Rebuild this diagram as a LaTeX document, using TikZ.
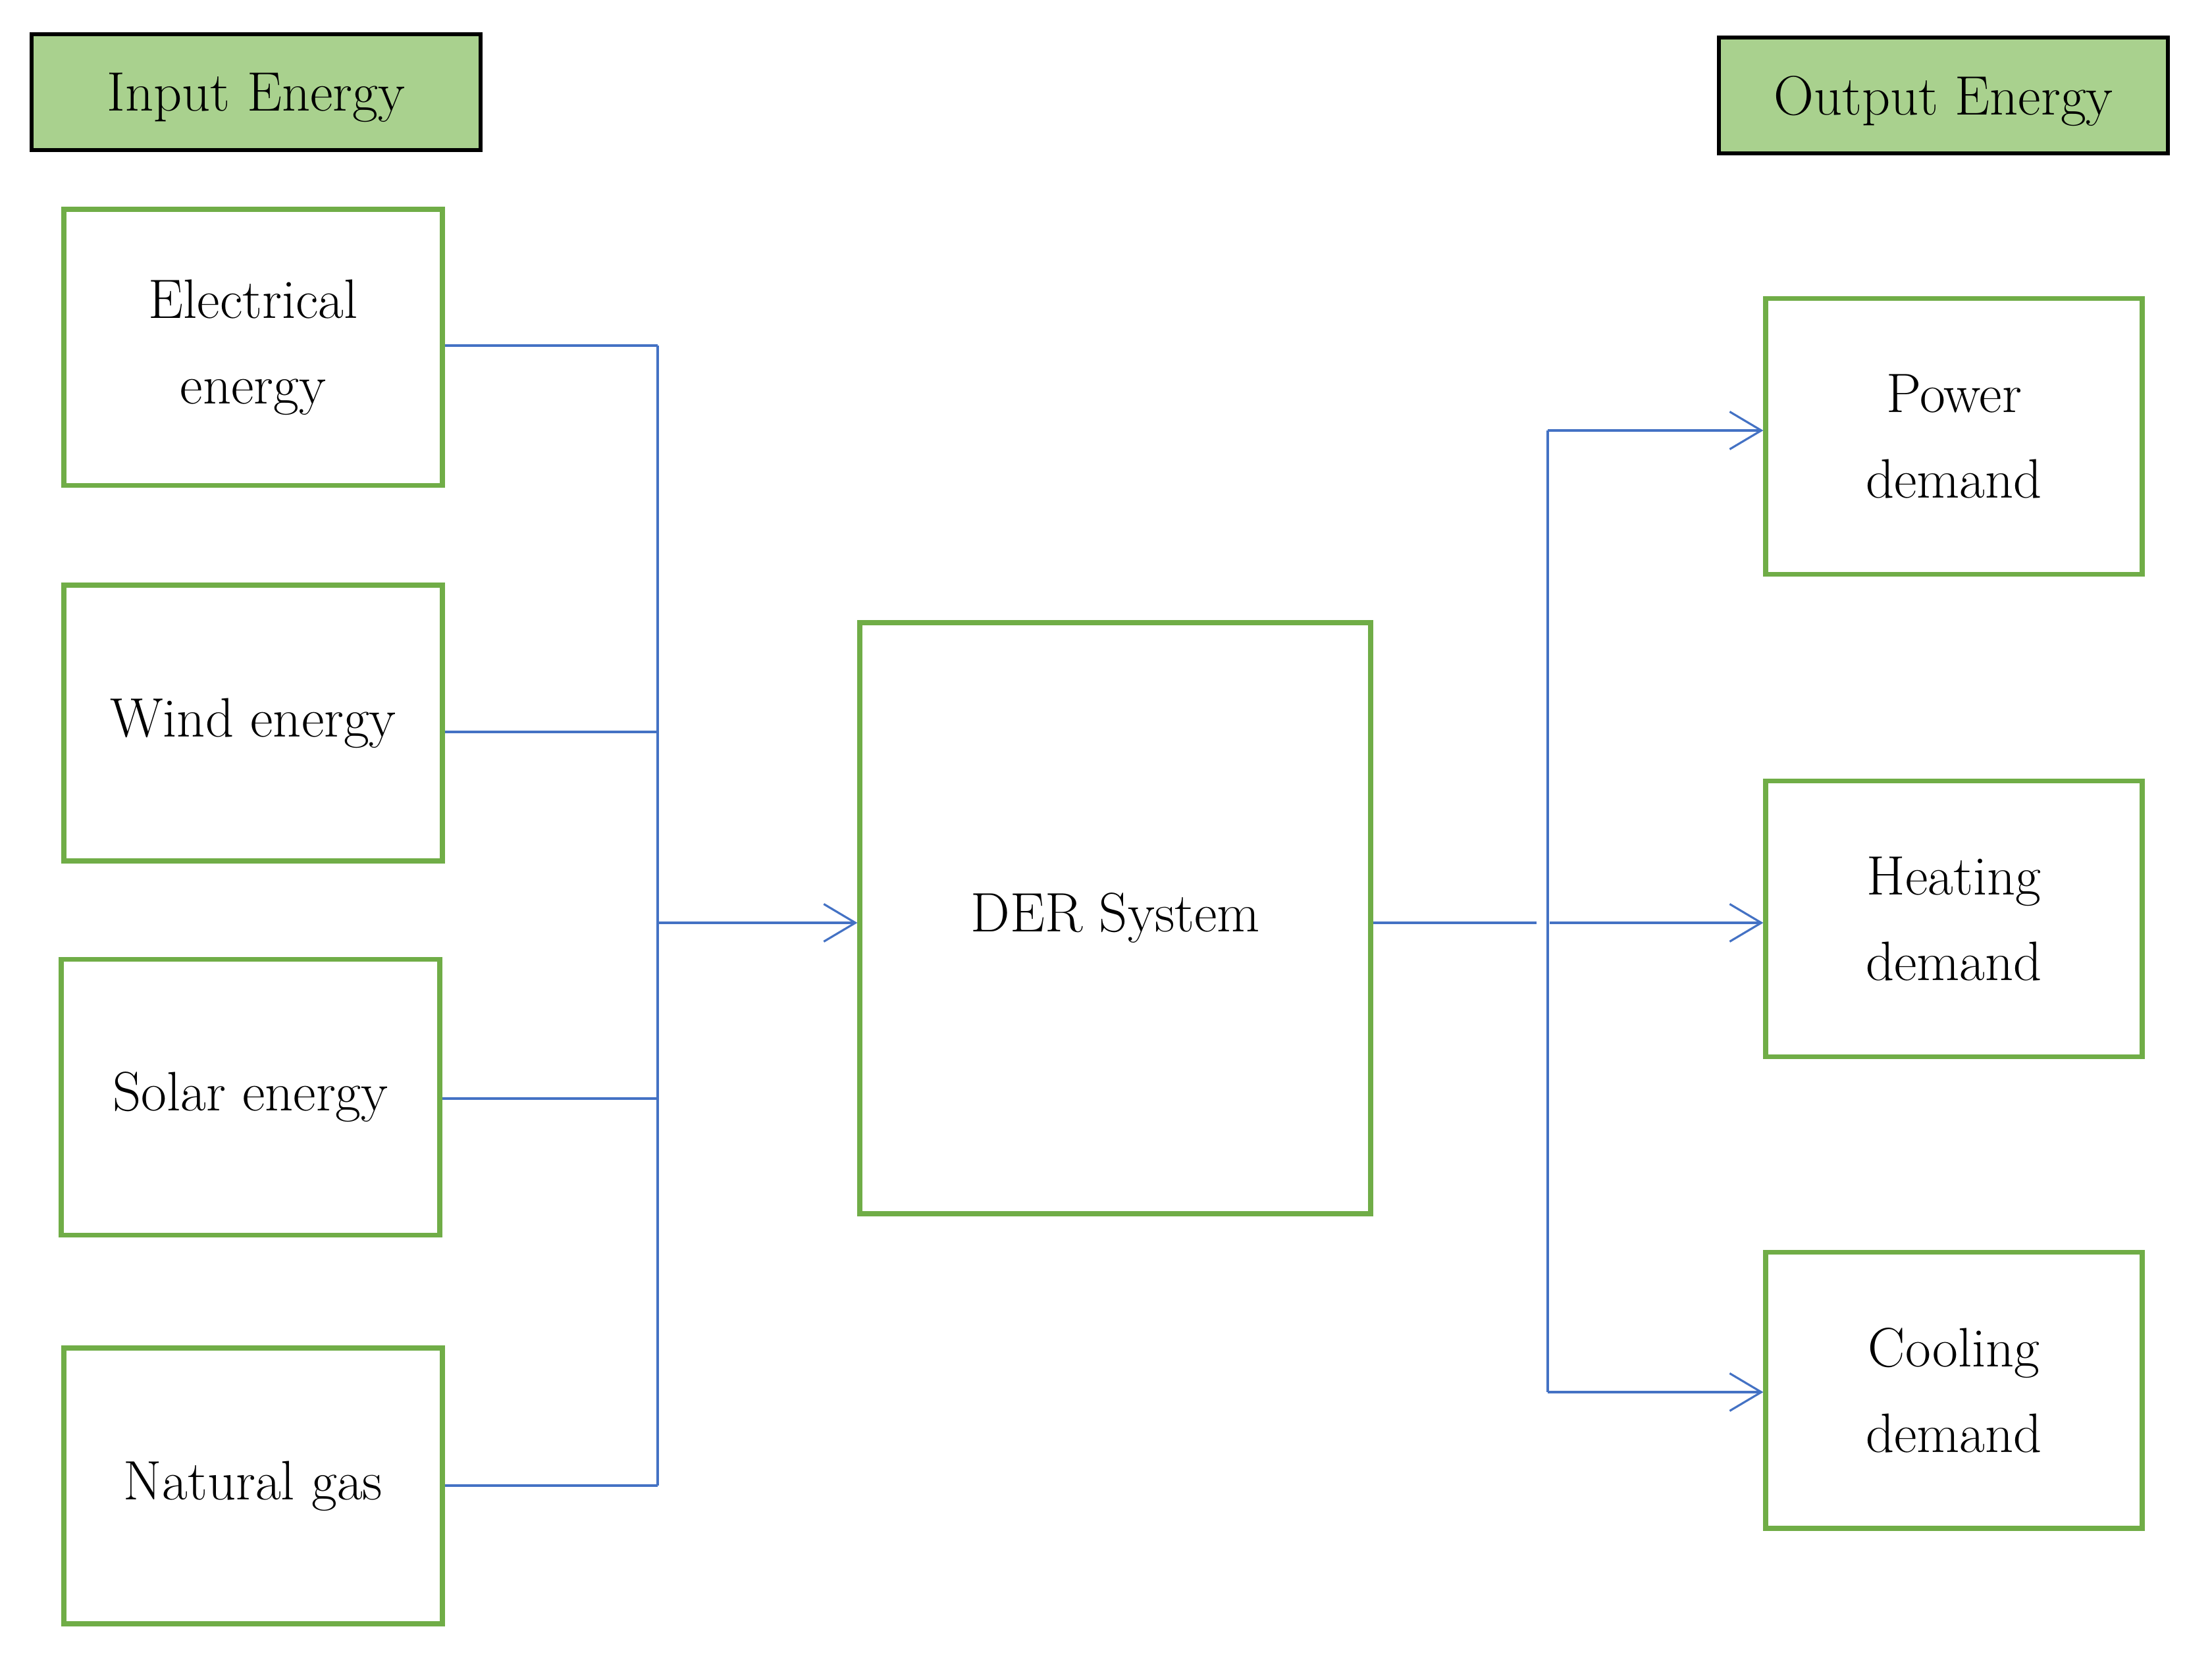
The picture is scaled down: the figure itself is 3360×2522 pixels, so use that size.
\documentclass[tikz,border=0pt]{standalone}
\usepackage{tikz}
\usetikzlibrary{arrows.meta}
\definecolor{boxgreen}{HTML}{70AD47}
\definecolor{headgreen}{HTML}{A9D18E}
\definecolor{linkblue}{HTML}{4472C4}
\begin{document}
\begin{tikzpicture}[x=0.01cm,y=-0.01cm,
  head/.style={draw=black,line width=1.7pt,fill=headgreen,minimum width=6.82cm,minimum height=1.76cm,inner sep=0pt,text depth=0pt,font=\fontsize{24}{37}\selectfont},
  src/.style={draw=boxgreen,line width=2.2pt,minimum width=5.74cm,minimum height=4.19cm,align=center,inner sep=0pt,font=\fontsize{24}{37}\selectfont},
  link/.style={draw=linkblue,line width=0.9pt},
  feed/.style={link,-{Straight Barb[length=4.8mm,width=5.7mm]}}]
\useasboundingbox (0,0) rectangle (3360,2522);

\node[head] (inE) at (389,140) {Input Energy};
\node[head] (outE) at (2952,145) {Output Energy};

\node[src] (elec) at (384.5,528) {Electrical\\energy};
\node[src] (wind) at (384.5,1098.5) {Wind energy};
\node[src] (solar) at (380.5,1667) {Solar energy};
\node[src] (gas) at (384.5,2257.5) {Natural gas};

\node[src,minimum width=7.75cm,minimum height=8.97cm] (der) at (1694,1395) {DER System};

\node[src,minimum width=5.71cm] (power) at (2968,663) {Power\\demand};
\node[src,minimum width=5.71cm] (heat) at (2968,1396) {Heating\\demand};
\node[src,minimum width=5.71cm] (cool) at (2968,2112) {Cooling\\demand};

\coordinate (lb1) at (999,525);
\coordinate (lb2) at (999,1112);
\coordinate (lb3) at (999,1669);
\coordinate (lb4) at (999,2257);
\coordinate (lbm) at (999,1402);
\draw[link] (elec.east |- lb1) -- (lb1);
\draw[link] (wind.east |- lb2) -- (lb2);
\draw[link] (solar.east |- lb3) -- (lb3);
\draw[link] (gas.east |- lb4) -- (lb4);
\draw[link] (lb1) -- (lb4);
\draw[feed] (lbm) -- (der.west |- lbm);

\coordinate (rgap) at (2334,1402);
\coordinate (rb1) at (2351,654);
\coordinate (rb2) at (2354,1402);
\coordinate (rb3) at (2351,2115);
\draw[link] (der.east |- rgap) -- (rgap);
\draw[link] (rb1) -- (rb3);
\draw[feed] (rb1) -- (power.west |- rb1);
\draw[feed] (rb2) -- (heat.west |- rb2);
\draw[feed] (rb3) -- (cool.west |- rb3);

\end{tikzpicture}
\end{document}
